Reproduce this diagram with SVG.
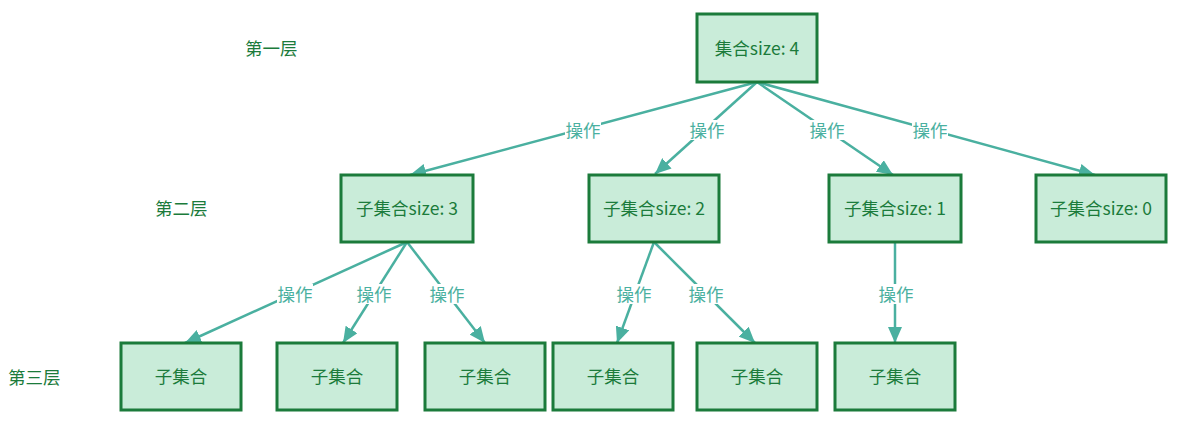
<svg xmlns="http://www.w3.org/2000/svg" width="1178" height="437" viewBox="0 0 1178 437">
<style>
.node rect{fill:#c9ecd9;stroke:#1b7b3b;stroke-width:3}
.node text{fill:#1b7b3b;font-family:"Noto Sans CJK SC","Microsoft YaHei",sans-serif;font-size:17.5px;text-anchor:middle;dominant-baseline:central}
.layer{fill:#1b7b3b;font-family:"Noto Sans CJK SC",sans-serif;font-size:17.5px;dominant-baseline:central}
.edges line{stroke:#4ab0a0;stroke-width:2.5;marker-end:url(#arr)}
.lbl rect{fill:#fff}
.lbl text{fill:#4ab0a0;font-family:"Noto Sans CJK SC",sans-serif;font-size:17.5px;text-anchor:middle;dominant-baseline:central}
</style>
<defs>
<marker id="arr" markerUnits="userSpaceOnUse" markerWidth="16" markerHeight="14" refX="16" refY="7" orient="auto">
<path d="M0,0 L16,7 L0,14 Z" fill="#4ab0a0"/>
</marker>
</defs>
<rect width="1178" height="437" fill="#fff"/>
<text class="layer" x="245" y="47">第一层</text>
<text class="layer" x="155" y="207">第二层</text>
<text class="layer" x="8" y="376">第三层</text>
<g class="edges">
<line x1="757" y1="82" x2="410" y2="175"/>
<line x1="757" y1="82" x2="655" y2="174"/>
<line x1="757" y1="82" x2="893" y2="175"/>
<line x1="757" y1="82" x2="1095" y2="175"/>
<line x1="407" y1="242" x2="185" y2="343"/>
<line x1="407" y1="242" x2="343" y2="343"/>
<line x1="407" y1="242" x2="485" y2="343"/>
<line x1="654" y1="242" x2="617" y2="343"/>
<line x1="654" y1="242" x2="755" y2="343"/>
<line x1="895" y1="242" x2="895" y2="343"/>
<g class="lbl">
<rect x="565" y="120" width="36" height="20"/><text x="583" y="129">操作</text>
<rect x="689" y="120" width="36" height="20"/><text x="707" y="129">操作</text>
<rect x="809" y="120" width="36" height="20"/><text x="827" y="129">操作</text>
<rect x="912" y="120" width="36" height="20"/><text x="930" y="129">操作</text>
<rect x="277" y="284" width="36" height="20"/><text x="295" y="293">操作</text>
<rect x="356" y="284" width="36" height="20"/><text x="374" y="293">操作</text>
<rect x="429" y="284" width="36" height="20"/><text x="447" y="293">操作</text>
<rect x="616" y="284" width="36" height="20"/><text x="634" y="293">操作</text>
<rect x="688" y="284" width="36" height="20"/><text x="706" y="293">操作</text>
<rect x="878" y="284" width="36" height="20"/><text x="896" y="293">操作</text>
</g>
</g>
<g id="n0" class="node"><rect x="697" y="14" width="120" height="68"/><text x="757" y="47">集合size: 4</text></g>
<g id="n1" class="node"><rect x="341" y="175" width="132" height="67"/><text x="407" y="207.5">子集合size: 3</text></g>
<g id="n2" class="node"><rect x="589" y="175" width="130" height="67"/><text x="654" y="207.5">子集合size: 2</text></g>
<g id="n3" class="node"><rect x="829" y="175" width="132" height="67"/><text x="895" y="207.5">子集合size: 1</text></g>
<g id="n4" class="node"><rect x="1036" y="175" width="130" height="67"/><text x="1101" y="207.5">子集合size: 0</text></g>
<g id="n5" class="node"><rect x="121" y="343" width="120" height="67"/><text x="181" y="375.5">子集合</text></g>
<g id="n6" class="node"><rect x="277" y="343" width="120" height="67"/><text x="337" y="375.5">子集合</text></g>
<g id="n7" class="node"><rect x="425" y="343" width="120" height="67"/><text x="485" y="375.5">子集合</text></g>
<g id="n8" class="node"><rect x="553" y="343" width="120" height="67"/><text x="613" y="375.5">子集合</text></g>
<g id="n9" class="node"><rect x="697" y="343" width="120" height="67"/><text x="757" y="375.5">子集合</text></g>
<g id="n10" class="node"><rect x="835" y="343" width="120" height="67"/><text x="895" y="375.5">子集合</text></g>
</svg>
